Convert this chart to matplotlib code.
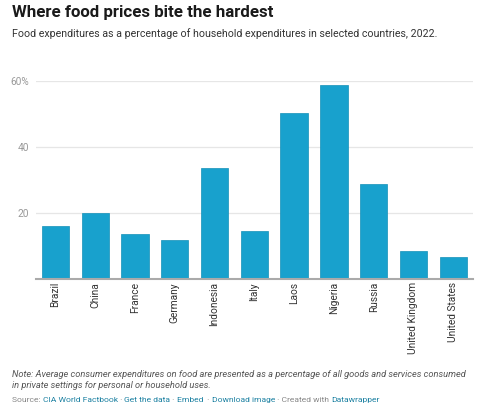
import matplotlib
matplotlib.use('Agg')
import matplotlib.pyplot as plt

plt.rcParams['font.family'] = ['Roboto', 'DejaVu Sans']

# Data
countries = ['Brazil', 'China', 'France', 'Germany', 'Indonesia', 'Italy',
             'Laos', 'Nigeria', 'Russia', 'United Kingdom', 'United States']
food_share = [16.2, 20.1, 13.7, 11.8, 33.7, 14.6, 50.5, 59.0, 29.0, 8.6, 6.7]
y_ticks = [20, 40, 60]
y_tick_labels = ['20', '40', '60%']

fig = plt.figure(figsize=(5, 4.15), dpi=100)
ax = fig.add_axes([0.072, 0.327, 0.8734, 0.477])

x = range(len(countries))
ax.bar(x, food_share, width=0.686, color='#18a1cd', edgecolor='#1590b8',
       linewidth=0.5, zorder=3)

ax.set_xlim(-0.49, len(countries) - 0.51)
ax.set_ylim(0, 60)
ax.set_yticks(y_ticks)
ax.set_yticklabels(y_tick_labels, color='#999999', fontsize=7.3)
ax.set_xticks(list(x))
ax.set_xticklabels(countries, rotation=90, fontsize=7.3, color='#333333',
                   va='top')
ax.tick_params(axis='both', length=0)
ax.tick_params(axis='y', pad=5)
ax.tick_params(axis='x', pad=2)
ax.grid(axis='y', color='#e6e6e6', linewidth=0.9, zorder=0)
for s in ['top', 'right', 'left']:
    ax.spines[s].set_visible(False)
ax.spines['bottom'].set_color('#aaaaaa')
ax.spines['bottom'].set_linewidth(1.5)
ax.spines['bottom'].set_zorder(4)

# Titles
fig.text(12 / 500, 1 - 17 / 415, 'Where food prices bite the hardest',
         fontsize=12.2, fontweight='bold', color='#1a1a1a', va='baseline')
fig.text(12 / 500, 1 - 37 / 415,
         'Food expenditures as a percentage of household expenditures in selected countries, 2022.',
         fontsize=7.65, color='#333333', va='baseline')

# Notes (baseline of a multi-line text is the last line)
fig.text(12 / 500, 1 - 388 / 415,
         'Note: Average consumer expenditures on food are presented as a percentage of all goods and services consumed\n'
         'in private settings for personal or household uses.',
         fontsize=6.65, color='#555555', style='italic', va='baseline',
         linespacing=1.3)

# Source line with link colours
pieces = [('Source: ', '#888888'), ('CIA World Factbook', '#1d81a2'),
          (' \u00b7 ', '#888888'), ('Get the data', '#1d81a2'),
          (' \u00b7 ', '#888888'), ('Embed ', '#1d81a2'),
          (' \u00b7 ', '#888888'), ('Download image', '#1d81a2'),
          (' \u00b7 Created with ', '#888888'), ('Datawrapper', '#1d81a2')]
renderer = fig.canvas.get_renderer()
xpos = 12
for txt, col in pieces:
    t = fig.text(xpos / 500, 1 - 402 / 415, txt, fontsize=6.1, color=col,
                 va='baseline')
    bb = t.get_window_extent(renderer=renderer)
    xpos += bb.width

fig.savefig('out.png', dpi=100)
